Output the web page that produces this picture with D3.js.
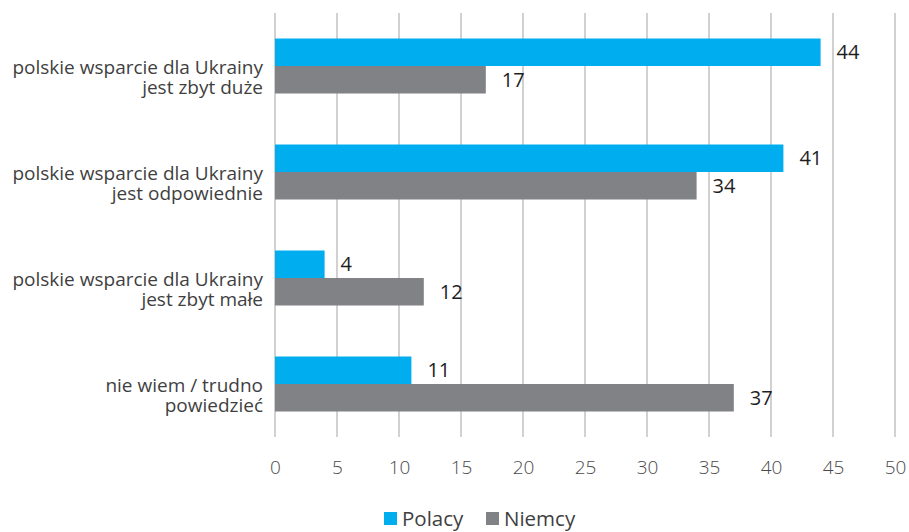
<!DOCTYPE html>
<html>
<head>
<meta charset="utf-8">
<script src="https://cdn.jsdelivr.net/npm/d3@7"></script>
<style>
  html, body { margin: 0; padding: 0; background: #fff; }
  svg { display: block; font-family: "Open Sans", "DejaVu Sans", sans-serif; }
</style>
</head>
<body>
<svg id="chart" width="909" height="532"></svg>
<script>
// Survey answers: how Poles and Germans rate Polish support for Ukraine (%)
const categories = [
  ["polskie wsparcie dla Ukrainy", "jest zbyt duże"],
  ["polskie wsparcie dla Ukrainy", "jest odpowiednie"],
  ["polskie wsparcie dla Ukrainy", "jest zbyt małe"],
  ["nie wiem / trudno", "powiedzieć"]
];
const seriesNames = ["Polacy", "Niemcy"];
const polacy = [44, 41, 4, 11];
const niemcy = [17, 34, 12, 37];
const tickValues = [0, 5, 10, 15, 20, 25, 30, 35, 40, 45, 50];
const colors = ["#00aeef", "#818285"];

const svg = d3.select("#chart");
const plot = { left: 275, right: 895, top: 13, bottom: 437 };

const x = d3.scaleLinear().domain([0, 50]).range([plot.left, plot.right]);
const y = d3.scaleBand().domain(d3.range(categories.length))
  .range([plot.top, plot.bottom]).paddingInner(0).paddingOuter(0);
const barH = 27.5;
const sub = d3.scaleBand().domain(seriesNames).range([0, barH * 2]);

// vertical gridlines
svg.append("g").selectAll("line").data(tickValues).join("line")
  .attr("x1", d => x(d)).attr("x2", d => x(d))
  .attr("y1", plot.top).attr("y2", plot.bottom)
  .attr("stroke", "#b8b8b8").attr("stroke-width", 1.3);

// x axis tick labels
const xAxis = d3.axisBottom(x).tickValues(tickValues).tickSize(0).tickPadding(0);
const gx = svg.append("g").attr("transform", `translate(0, ${plot.bottom + 23})`).call(xAxis);
gx.select(".domain").remove();
gx.selectAll("text")
  .attr("font-family", "\"Open Sans\", sans-serif")
  .attr("font-size", 19).attr("fill", "#4a4a4a").attr("font-weight", 300);

// bars
const rows = categories.map((c, i) => ({ i, values: [polacy[i], niemcy[i]] }));
const groups = svg.append("g").selectAll("g").data(rows).join("g")
  .attr("transform", d => `translate(0, ${y(d.i) + (y.bandwidth() - barH * 2) / 2})`);

groups.selectAll("rect").data(d => d.values.map((v, k) => ({ v, k }))).join("rect")
  .attr("x", x(0))
  .attr("y", d => sub(seriesNames[d.k]))
  .attr("width", d => x(d.v) - x(0))
  .attr("height", sub.bandwidth())
  .attr("fill", d => colors[d.k]);

// value labels
groups.selectAll("text.val").data(d => d.values.map((v, k) => ({ v, k }))).join("text")
  .attr("class", "val")
  .attr("x", d => x(d.v) + 16)
  .attr("y", d => sub(seriesNames[d.k]) + sub.bandwidth() / 2)
  .attr("dy", "0.36em")
  .attr("font-size", 20).attr("font-weight", 500).attr("fill", "#1e1e1e")
  .text(d => d.v);

// category labels, one text per line
const catG = svg.append("g").selectAll("g").data(categories).join("g")
  .attr("transform", (d, i) => `translate(263, ${y(i) + y.bandwidth() / 2})`);
catG.selectAll("text").data(d => d).join("text")
  .attr("text-anchor", "end")
  .attr("font-size", 19).attr("fill", "#3f3f3f")
  .attr("y", (d, j) => j === 0 ? 8 : 28)
  .text(d => d);

// legend
const legend = svg.append("g").attr("transform", "translate(384, 512)");
const items = legend.selectAll("g").data(seriesNames).join("g")
  .attr("transform", (d, i) => `translate(${i * 102}, 0)`);
items.append("rect").attr("width", 13).attr("height", 13)
  .attr("fill", (d, i) => colors[i]);
items.append("text").attr("x", 18).attr("y", 13.5)
  .attr("font-size", 20.5).attr("fill", "#3f3f3f").text(d => d);
</script>
</body>
</html>
